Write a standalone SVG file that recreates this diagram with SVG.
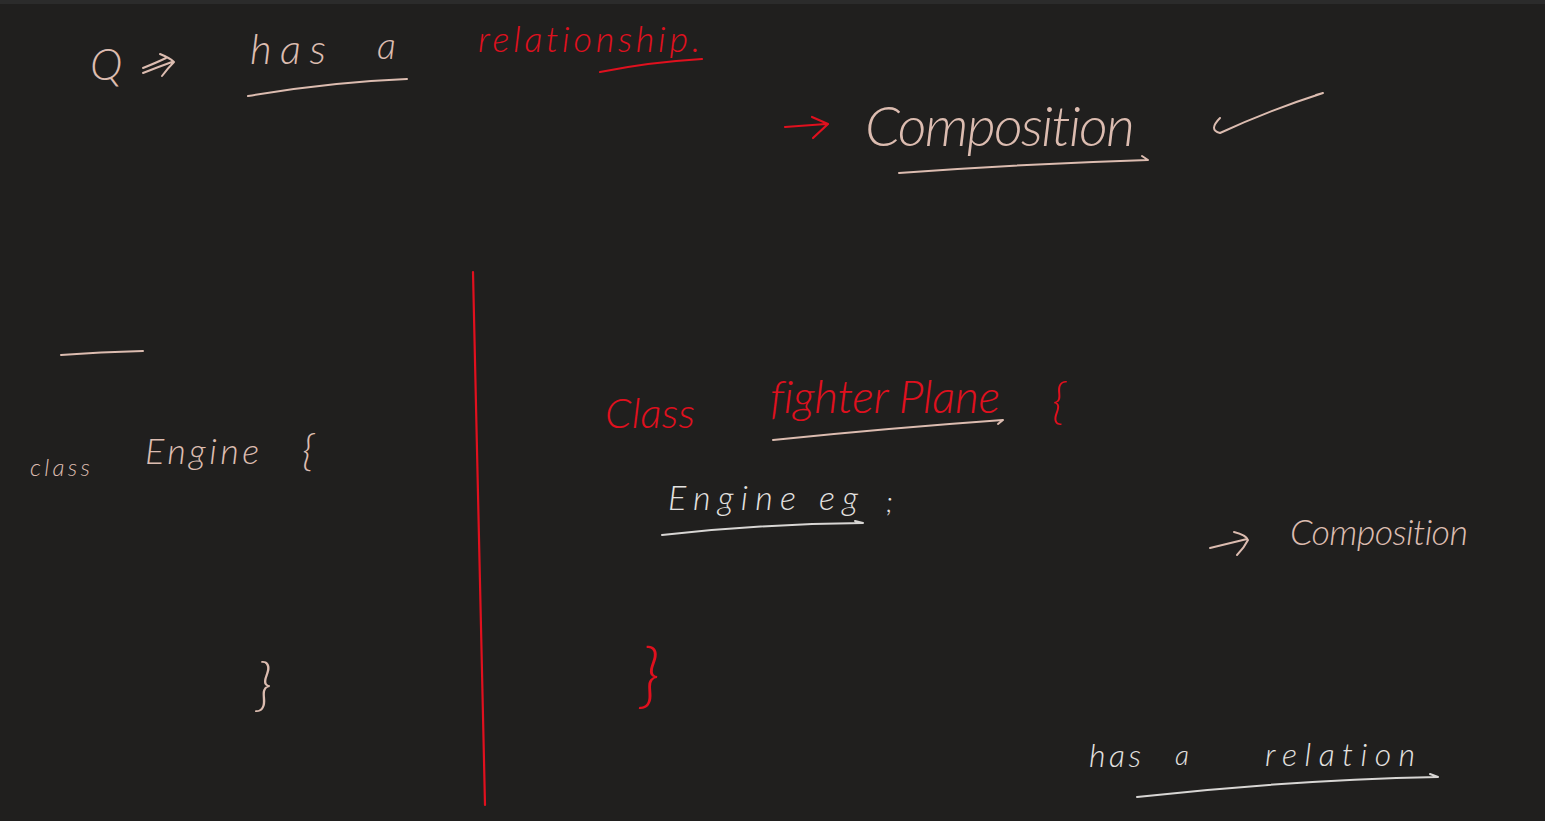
<svg xmlns="http://www.w3.org/2000/svg" width="1545" height="821" viewBox="0 0 1545 821">
<style>
.t{font-family:Lato,"Open Sans","Liberation Sans",sans-serif;font-weight:300;font-style:italic;font-variant-ligatures:none;font-feature-settings:"liga" 0,"clig" 0,"dlig" 0}
.pk{fill:#dcbcb0}
.rd{fill:#e0101e}
.wh{fill:#e4e2e0}
.spk{fill:none;stroke:#dcbcb0;stroke-width:2;stroke-linecap:round;stroke-linejoin:round}
.srd{fill:none;stroke:#e0101e;stroke-width:2.2;stroke-linecap:round;stroke-linejoin:round}
.swh{fill:none;stroke:#d8d6d4;stroke-width:2;stroke-linecap:round;stroke-linejoin:round}
</style>
<rect width="1545" height="821" fill="#201f1e"/>
<rect width="1545" height="4" fill="#2b2b2b"/>

<g id="question">
<text class="t pk" x="90" y="80" font-size="44">Q</text>
<path class="spk" d="M143,68 Q158,62 166,58 M143,73 Q158,67 172,62 M160,54 Q170,58 174,62 Q168,68 162,76"/>
</g>

<g id="has-a-relationship">
<text class="t pk" x="250" y="64" font-size="42" textLength="76" lengthAdjust="spacing">has</text>
<text class="t pk" x="377" y="59" font-size="38">a</text>
<path class="spk" d="M248,96 Q330,82 407,79"/>
<text class="t rd" x="478" y="52" font-size="36" textLength="222" lengthAdjust="spacing">relationship.</text>
<path class="srd" d="M600,72 Q650,62 702,59"/>
</g>

<g id="composition-top">
<path class="srd" d="M785,127 L826,124 M812,117 L828,124 L813,138"/>
<text class="t pk" x="865" y="146" font-size="56" textLength="270" lengthAdjust="spacing">Composition</text>
<path class="spk" d="M899,173 Q1020,164 1148,160 L1142,156"/>
<path class="spk" d="M1220,118 Q1208,130 1220,133 Q1270,110 1323,93 L1316,95"/>
</g>

<g id="engine-class">
<path class="spk" d="M61,355 Q100,352 143,351"/>
<text class="t pk" x="30" y="476" font-size="24" textLength="60" lengthAdjust="spacing">class</text>
<text class="t pk" x="145" y="464" font-size="36" textLength="114" lengthAdjust="spacing">Engine</text>
<text class="t pk" x="302" y="466" font-size="44">{</text>
<text class="t pk" x="256" y="704" font-size="58">}</text>
</g>

<g id="divider">
<path class="srd" d="M473,272 L485,805"/>
</g>

<g id="fighter-plane-class">
<text class="t rd" x="605" y="428" font-size="42" textLength="90" lengthAdjust="spacing">Class</text>
<text class="t rd" x="770" y="413" font-size="46" textLength="230" lengthAdjust="spacing">fighter Plane</text>
<path class="spk" d="M773,440 Q890,428 1003,420 L998,424"/>
<text class="t rd" x="1052" y="418" font-size="50">{</text>
<text class="t wh" x="668" y="510" font-size="34" textLength="190" lengthAdjust="spacing">Engine eg</text>
<text class="t wh" x="886" y="512" font-size="28">;</text>
<path class="swh" d="M662,535 Q760,524 863,523 L855,521"/>
<text class="t rd" x="640" y="700" font-size="72">}</text>
</g>

<g id="composition-right">
<path class="spk" d="M1210,548 L1247,539 M1234,532 Q1246,535 1248,540 Q1244,548 1237,555"/>
<text class="t pk" x="1290" y="545" font-size="36" textLength="178" lengthAdjust="spacing">Composition</text>
</g>

<g id="has-a-relation">
<text class="t wh" x="1089" y="767" font-size="32" textLength="52" lengthAdjust="spacing">has</text>
<text class="t wh" x="1175" y="765" font-size="28">a</text>
<text class="t wh" x="1265" y="766" font-size="32" textLength="150" lengthAdjust="spacing">relation</text>
<path class="swh" d="M1137,797 Q1290,780 1438,777 L1430,774"/>
</g>
</svg>
